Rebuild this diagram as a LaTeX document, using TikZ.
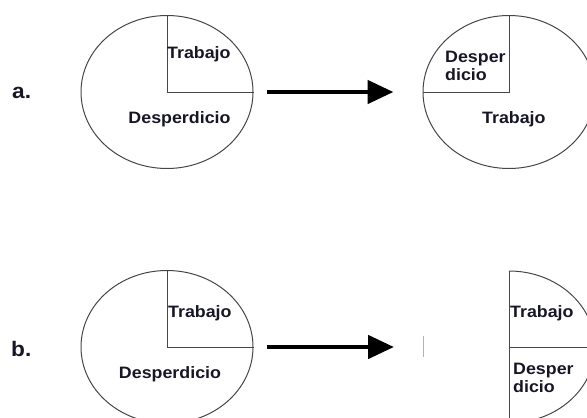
\documentclass[tikz,border=0pt]{standalone}
\usepackage{fontspec}
\setmainfont{Liberation Sans}[FakeStretch=1.08]
\usetikzlibrary{shapes.geometric,arrows.meta}
\definecolor{ink}{RGB}{22,22,40}
\definecolor{rim}{RGB}{70,70,70}
\begin{document}
\begin{tikzpicture}[x=1pt,y=-1pt,
  pie/.style={ellipse,draw=rim,line width=1pt,minimum width=172pt,minimum height=153pt,inner sep=0pt},
  divider/.style={draw=rim,line width=1pt},
  lbl/.style={font=\bfseries\fontsize{16.5}{18}\selectfont,text=ink,inner sep=0pt,anchor=base west},
  tag/.style={font=\bfseries\fontsize{21}{23}\selectfont,text=ink,inner sep=0pt,anchor=base west},
  shiftarrow/.style={line width=4.8pt,-{Triangle[length=26pt,width=23pt]}}]
\useasboundingbox (0,0) rectangle (587,418);
\clip (0,0) rectangle (587,418);

% ---- row a: before and after ----
\node[tag] (taga) at (12,98) {a.};
\node[pie] (a1) at (167,92) {};
\draw[divider] (a1.north) -- (a1.center) -- (a1.east);
\node[lbl] (a1t) at (167,58) {Trabajo};
\node[lbl,anchor=base] (a1d) at (179.5,123) {Desperdicio};

\node[pie] (a2) at (509,92) {};
\draw[divider] (a2.north) -- (a2.center) -- (a2.west);
\node[lbl] (a2d1) at (445,62) {Desper};
\node[lbl] (a2d2) at (445,80) {dicio};
\node[lbl] (a2t) at (482,123) {Trabajo};

\draw[shiftarrow] ([xshift=13pt]a1.east) -- ([xshift=-29pt]a2.west);

% ---- row b: before and after ----
\node[tag] (tagb) at (11,356) {b.};
\node[pie] (b1) at (167,347) {};
\draw[divider] (b1.north) -- (b1.center) -- (b1.east);
\node[lbl] (b1t) at (168,317) {Trabajo};
\node[lbl,anchor=base] (b1d) at (170,378) {Desperdicio};

% half pie on the right
\coordinate (b2) at (509,347);
\coordinate (b2w) at (423,347);
\draw[divider] ([yshift=76pt]b2) arc[start angle=90,end angle=-90,x radius=86pt,y radius=76pt];
\draw[divider] ([yshift=76pt]b2) -- ([yshift=-80pt]b2);
\draw[divider] (b2) -- ([xshift=90pt]b2);
\draw[draw=black!30,line width=0.6pt] ([yshift=11pt]b2w) -- ([yshift=-10pt]b2w);
\node[lbl] (b2t) at (510,317) {Trabajo};
\node[lbl] (b2d1) at (513,374) {Desper};
\node[lbl] (b2d2) at (513,392) {dicio};

\draw[shiftarrow] ([xshift=13pt]b1.east) -- ([xshift=-29pt]b2w);
\end{tikzpicture}
\end{document}
